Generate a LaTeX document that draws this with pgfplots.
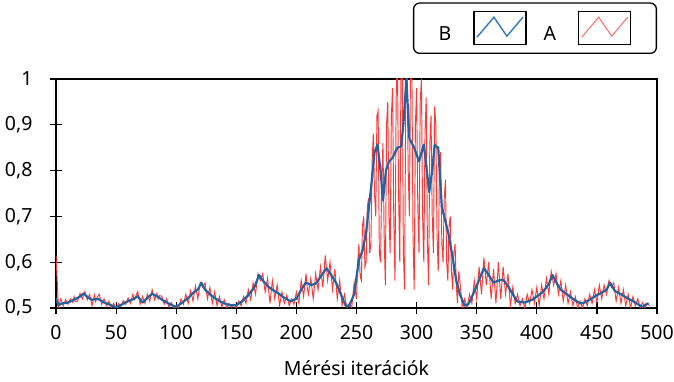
\documentclass[border=0pt]{standalone}
\usepackage{pgfplots}
\pgfplotsset{compat=1.18}
\usepackage{fontspec}
\setmainfont{Noto Sans}
\definecolor{bblue}{RGB}{36,98,160}
\definecolor{lblue}{RGB}{52,120,190}
\definecolor{rred}{RGB}{255,55,55}
\newcommand{\chartfont}{\fontsize{19.5}{21}\selectfont}
\begin{document}
\begin{tikzpicture}
\begin{axis}[
  scale only axis, width=601pt, height=229pt,
  xmin=0, xmax=500, ymin=0.5, ymax=1,
  xtick={0,50,100,150,200,250,300,350,400,450,500},
  ytick={0.5,0.6,0.7,0.8,0.9,1},
  tick pos=left,
  tick align=center, major tick length=12pt,
  every major tick/.append style={black, line width=1.2pt},
  axis line style={black, line width=1.3pt},
  tick label style={font=\chartfont},
  xticklabel style={yshift=-8pt},
  yticklabel style={xshift=-14pt},
  xlabel={Mérési iterációk},
  label style={font=\chartfont},
  xlabel style={yshift=-14pt},
  legend columns=2, legend plot pos=right,
  legend style={at={(1,1)}, anchor=south east, yshift=25pt,
    draw=black, line width=1.3pt, rounded corners=6pt,
    font=\chartfont, inner xsep=25pt, inner ysep=8pt,
    nodes={inner sep=0pt},
    /tikz/every odd column/.append style={column sep=22pt},
    /tikz/every even column/.append style={column sep=17pt}},
  legend image code/.code={
    \draw[black, solid, sharp corners, line width=1.3pt, fill=white] (0pt,-10.5pt) rectangle (52pt,22.5pt);
    \draw[sharp corners] (3pt,-3pt) -- (20pt,17pt) -- (33pt,-2pt) -- (49pt,17pt);
  },
  /pgf/number format/.cd, use comma, fixed, precision=1, assume math mode=true,
]
\addlegendimage{lblue, line width=1.4pt}
\addlegendentry{B}
\addlegendimage{rred!80, line width=0.9pt}
\addlegendentry{A}

% series A (red, raw)
\addplot[rred, line width=0.95pt, forget plot] coordinates {
(0,0.615)(1,0.56)(2,0.502)(4,0.52)(6,0.505)(8,0.518)(10,0.508)(12,0.52)(14,0.512)(15,0.525)(16,0.514)(18,0.515)
(20,0.532)(22,0.52)(24,0.536)(26,0.518)(28,0.53)(30,0.505)(32,0.528)(33,0.514)(34,0.522)(36,0.53)(38,0.508)
(40,0.52)(42,0.505)(44,0.515)(46,0.5)(48,0.51)(50,0.5)(52,0.51)(54,0.503)(56,0.516)(58,0.508)
(60,0.522)(62,0.51)(64,0.53)(65,0.518)(66,0.524)(68,0.536)(70,0.508)(72,0.525)(74,0.51)(76,0.53)(78,0.515)
(80,0.54)(82,0.518)(84,0.532)(85,0.52)(86,0.527)(88,0.526)(90,0.508)(92,0.52)(94,0.502)(96,0.512)(98,0.5)
(100,0.506)(102,0.5)(104,0.52)(106,0.508)(108,0.53)(110,0.51)(112,0.538)(114,0.515)(116,0.548)(118,0.52)
(120,0.556)(122,0.545)(124,0.555)(126,0.52)(128,0.545)(129,0.528)(130,0.51)(132,0.535)(134,0.505)(136,0.525)(138,0.502)
(140,0.518)(142,0.5)(144,0.51)(146,0.502)(148,0.508)(150,0.5)(152,0.515)(154,0.505)(156,0.525)(158,0.51)
(160,0.54)(162,0.518)(164,0.555)(166,0.53)(168,0.575)(170,0.56)(172,0.575)(174,0.535)(176,0.565)(178,0.51)
(180,0.56)(182,0.52)(184,0.55)(186,0.505)(188,0.535)(190,0.51)(192,0.528)(194,0.505)(196,0.52)(198,0.508)
(200,0.535)(202,0.51)(204,0.56)(206,0.525)(208,0.575)(209,0.545)(210,0.53)(212,0.565)(214,0.52)(216,0.575)(218,0.54)
(220,0.59)(222,0.545)(224,0.615)(226,0.56)(228,0.6)(230,0.54)(232,0.585)(234,0.52)(236,0.56)(238,0.505)
(240,0.53)(242,0.5)(244,0.51)(246,0.5)(248,0.555)
(250,0.52)(251,0.6)(252,0.64)(253,0.57)(254,0.56)(255,0.68)(256,0.7)(257,0.59)(258,0.6)(259,0.72)
(260,0.74)(261,0.62)(262,0.64)(263,0.82)(264,0.88)(265,0.75)(266,0.7)(267,0.92)(268,0.93)(269,0.62)
(270,0.6)(271,0.78)(272,0.86)(273,0.66)(274,0.55)(275,0.9)(276,0.95)(277,0.7)(278,0.62)(279,0.92)
(280,0.98)(281,0.7)(282,0.56)(283,0.96)(284,1.05)(285,0.75)(286,0.6)(287,1.02)(288,1.05)(289,0.62)
(290,0.54)(291,0.98)(292,1.05)(293,0.8)(294,0.7)(295,1.05)(296,1.05)(297,0.66)(298,0.54)(299,0.9)
(300,0.98)(301,0.72)(302,0.62)(303,0.95)(304,1.0)(305,0.7)(306,0.6)(307,0.88)(308,0.96)(309,0.64)
(310,0.55)(311,0.86)(312,0.92)(313,0.7)(314,0.62)(315,0.94)(316,0.9)(317,0.66)(318,0.58)(319,0.8)
(320,0.84)(321,0.64)(322,0.6)(323,0.74)(324,0.78)(325,0.6)(326,0.56)(327,0.68)(328,0.7)(329,0.58)
(330,0.54)(331,0.62)(332,0.64)(333,0.55)(334,0.51)(335,0.58)(336,0.56)(338,0.5)
(340,0.52)(342,0.5)(344,0.53)(346,0.51)(348,0.56)(350,0.52)(352,0.59)(354,0.53)(356,0.61)(358,0.55)
(360,0.6)(362,0.52)(364,0.585)(366,0.51)(368,0.6)(370,0.52)(372,0.59)(374,0.53)(376,0.575)(378,0.505)
(380,0.545)(382,0.51)(384,0.53)(386,0.505)(388,0.52)(390,0.5)(392,0.53)(394,0.51)(396,0.54)(398,0.51)
(400,0.545)(402,0.505)(404,0.55)(406,0.52)(408,0.565)(410,0.53)(412,0.58)(414,0.55)(416,0.575)(418,0.53)
(420,0.56)(422,0.515)(424,0.55)(426,0.51)(428,0.535)(430,0.505)(432,0.525)(434,0.5)(436,0.515)(438,0.5)
(440,0.52)(442,0.505)(444,0.53)(446,0.51)(448,0.54)(450,0.512)(452,0.55)(454,0.52)(456,0.55)(458,0.53)
(460,0.56)(462,0.545)(464,0.555)(466,0.515)(468,0.545)(470,0.51)(472,0.54)(474,0.505)(476,0.53)(478,0.5)
(480,0.525)(482,0.505)(484,0.52)(486,0.5)(488,0.512)(490,0.5)(492,0.51)(494,0.505)
};

% series B (blue, smoothed)
\addplot[bblue, line width=2.2pt, line join=round, forget plot] coordinates {
(0,0.522)(2,0.506)(5,0.51)(10,0.512)(15,0.518)(20,0.525)(23,0.532)(27,0.522)(30,0.518)(35,0.52)
(40,0.512)(45,0.507)(50,0.501)(55,0.508)(60,0.515)(65,0.52)(68,0.526)(72,0.512)(76,0.522)(80,0.531)
(85,0.524)(90,0.515)(95,0.508)(100,0.502)(105,0.512)(110,0.522)(115,0.535)(118,0.54)(121,0.555)(124,0.54)
(128,0.53)(132,0.522)(136,0.515)(140,0.51)(145,0.506)(150,0.506)(155,0.515)(160,0.528)(165,0.545)(169,0.572)
(172,0.56)(176,0.548)(180,0.54)(185,0.532)(190,0.522)(195,0.515)(200,0.52)(204,0.54)(208,0.556)(212,0.55)
(216,0.553)(220,0.568)(225,0.587)(229,0.572)(233,0.555)(237,0.53)(241,0.505)(244,0.505)(248,0.53)(252,0.605)
(255,0.625)(258,0.665)(262,0.76)(265,0.84)(267.5,0.857)(270,0.8)(272,0.735)(274.5,0.8)(277,0.82)(280,0.828)
(284,0.85)(287,0.852)(289,0.9)(291.5,1.0)(294,0.87)(298,0.85)(302,0.82)(306,0.857)(310.5,0.753)(313,0.8)
(315,0.856)(318,0.85)(321,0.72)(324,0.69)(327,0.655)(330,0.61)(333,0.56)(336,0.53)(340,0.505)(343,0.508)
(347,0.53)(351,0.555)(356,0.587)(360,0.572)(364,0.555)(368,0.56)(372,0.562)(376,0.548)(380,0.53)(384,0.514)
(390,0.512)(396,0.518)(400,0.525)(405,0.535)(410,0.552)(413,0.572)(417,0.552)(420,0.54)(425,0.53)(430,0.52)
(436,0.51)(440,0.512)(445,0.52)(450,0.528)(455,0.535)(458,0.54)(461,0.555)(465,0.537)(470,0.53)(475,0.522)
(480,0.515)(485,0.507)(488,0.502)(491,0.508)(493,0.51)
};
\end{axis}
\pgfresetboundingbox
\path (-56pt,-74pt) rectangle (618pt,308pt);
\end{tikzpicture}
\end{document}
